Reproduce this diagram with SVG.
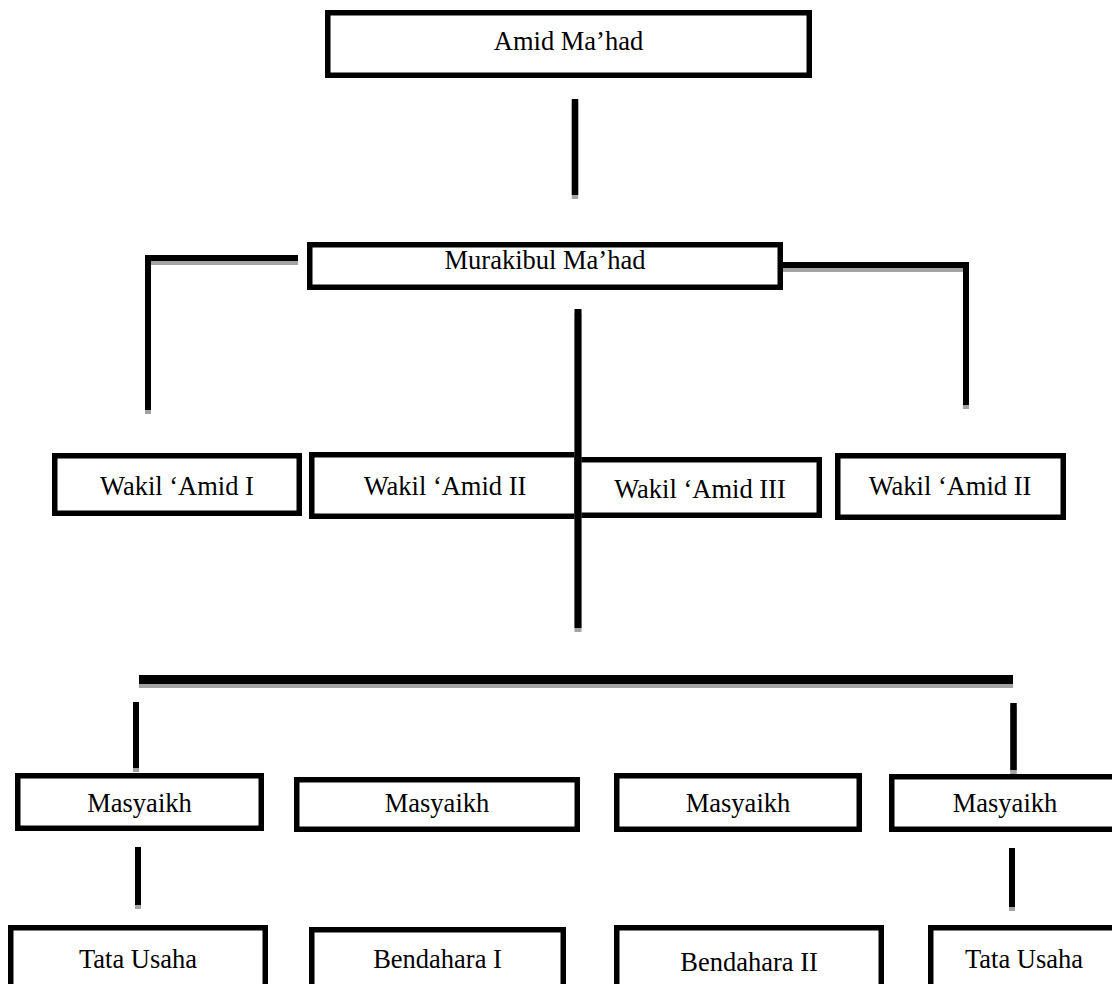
<svg xmlns="http://www.w3.org/2000/svg" width="1112" height="984" viewBox="0 0 1112 984">
<defs>
<style>
.box{fill:#fff;stroke:#000;stroke-width:5.5}
.lbl{font-family:"Liberation Serif","Times New Roman",serif;font-size:26.5px;fill:#000;text-anchor:middle}
.ln{fill:none;stroke:#000;stroke-linejoin:miter;stroke-linecap:butt}
.sh{fill:none;stroke:#a3a3a3;stroke-linejoin:miter;stroke-linecap:butt}
</style>
<g id="wires">
<path d="M575 99V195" stroke-width="6.5"/>
<path d="M148 410V258H298" stroke-width="6"/>
<path d="M783 265H966V405" stroke-width="6"/>
<path d="M578 309V628" stroke-width="7"/>
<path d="M139 679.5H1013" stroke-width="9"/>
<path d="M136 702V768" stroke-width="6"/>
<path d="M1013.5 703V770" stroke-width="6.5"/>
<path d="M138 847V905" stroke-width="6"/>
<path d="M1012 848V907" stroke-width="6"/>
</g>
</defs>
<rect width="1112" height="984" fill="#fff"/>
<g id="n-amid"><rect class="box" x="327.75" y="12.75" width="481.5" height="62.5"/><text class="lbl" x="568.5" y="50">Amid Ma’had</text></g>
<g id="n-murakib"><rect class="box" x="309.75" y="244.75" width="470.5" height="42.5"/><text class="lbl" x="545" y="269">Murakibul Ma’had</text></g>
<g id="n-wakil1"><rect class="box" x="54.75" y="455.75" width="244.5" height="57.5"/><text class="lbl" x="177" y="495">Wakil ‘Amid I</text></g>
<g id="n-wakil2"><rect class="box" x="311.75" y="454.75" width="266.5" height="61.5"/><text class="lbl" x="445" y="495">Wakil ‘Amid II</text></g>
<g id="n-wakil3"><rect class="box" x="576.75" y="459.75" width="242.5" height="55.5"/><text class="lbl" x="700" y="498">Wakil ‘Amid III</text></g>
<g id="n-wakil4"><rect class="box" x="837.75" y="455.75" width="225.5" height="61.5"/><text class="lbl" x="950" y="495">Wakil ‘Amid II</text></g>
<g id="n-masy1"><rect class="box" x="17.75" y="775.75" width="243.5" height="52.5"/><text class="lbl" x="139.5" y="812">Masyaikh</text></g>
<g id="n-masy2"><rect class="box" x="296.75" y="779.75" width="280.5" height="49.5"/><text class="lbl" x="437" y="812">Masyaikh</text></g>
<g id="n-masy3"><rect class="box" x="616.75" y="775.75" width="242.5" height="53.5"/><text class="lbl" x="738" y="812">Masyaikh</text></g>
<g id="n-masy4"><rect class="box" x="891.75" y="776.75" width="226.5" height="52.5"/><text class="lbl" x="1005" y="812">Masyaikh</text></g>
<g id="n-tu1"><rect class="box" x="10.75" y="927.75" width="254.5" height="70"/><text class="lbl" x="138" y="968">Tata Usaha</text></g>
<g id="n-bend1"><rect class="box" x="311.75" y="929.75" width="251.5" height="70"/><text class="lbl" x="437.5" y="968">Bendahara I</text></g>
<g id="n-bend2"><rect class="box" x="616.75" y="927.75" width="264.5" height="70"/><text class="lbl" x="749" y="971">Bendahara II</text></g>
<g id="n-tu2"><rect class="box" x="930.75" y="927.75" width="186.5" height="70"/><text class="lbl" x="1024" y="968">Tata Usaha</text></g>
<g id="connectors">
<use href="#wires" class="sh" transform="translate(0,4)"/>
<use href="#wires" class="ln"/>
</g>
</svg>
